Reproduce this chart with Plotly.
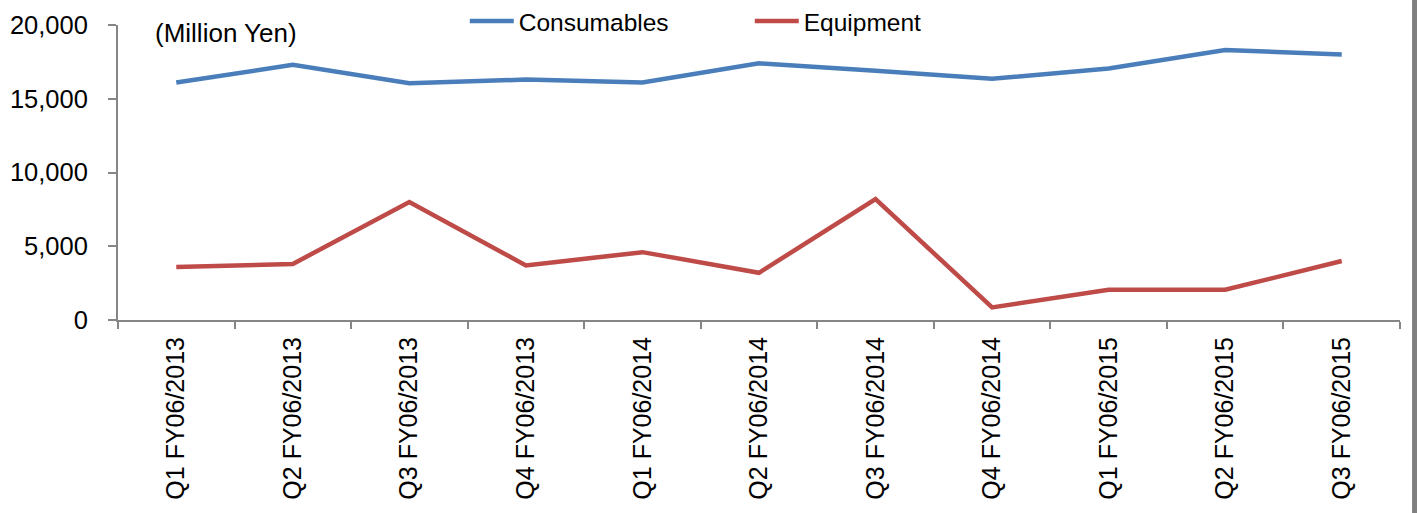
import plotly.graph_objects as go

# Quarterly sales by segment (million yen)
quarters = [
    "Q1 FY06/2013", "Q2 FY06/2013", "Q3 FY06/2013", "Q4 FY06/2013",
    "Q1 FY06/2014", "Q2 FY06/2014", "Q3 FY06/2014", "Q4 FY06/2014",
    "Q1 FY06/2015", "Q2 FY06/2015", "Q3 FY06/2015",
]
consumables = [16100, 17300, 16050, 16300, 16100, 17400, 16900, 16350, 17050, 18300, 18000]
equipment = [3600, 3800, 8000, 3700, 4600, 3200, 8200, 850, 2050, 2050, 4000]

y_ticks = [0, 5000, 10000, 15000, 20000]

FONT = "Liberation Sans, Arial, sans-serif"
AXIS_GRAY = "#868686"

fig = go.Figure()
fig.add_trace(go.Scatter(
    x=quarters, y=consumables, name="Consumables", mode="lines",
    line=dict(color="#4A7EBB", width=4.5),
))
fig.add_trace(go.Scatter(
    x=quarters, y=equipment, name="Equipment", mode="lines",
    line=dict(color="#BE4B48", width=4.5),
))

fig.update_layout(
    width=1417, height=513,
    margin=dict(l=118, r=17, t=25, b=193, autoexpand=False),
    paper_bgcolor="white", plot_bgcolor="white",
    font=dict(family=FONT, size=25, color="black"),
    showlegend=True,
    legend=dict(
        orientation="h", xref="container", yref="container",
        x=0.328, y=0.959, xanchor="left", yanchor="middle",
        font=dict(size=24.5), bgcolor="rgba(0,0,0,0)",
        entrywidth=226, entrywidthmode="pixels",
        itemwidth=44,
    ),
    xaxis=dict(
        type="category", tickangle=-90, range=[-0.5, len(quarters) - 0.5],
        showline=True, linecolor=AXIS_GRAY, linewidth=2,
        ticks="outside", tickson="boundaries", ticklen=7,
        tickcolor=AXIS_GRAY, tickwidth=2,
        showgrid=False, zeroline=False,
        tickfont=dict(size=25), ticklabelstandoff=5,
    ),
    yaxis=dict(
        range=[0, 20000], tickvals=y_ticks,
        tickformat=",d",
        showline=True, linecolor=AXIS_GRAY, linewidth=2,
        ticks="outside", ticklen=8, tickcolor=AXIS_GRAY, tickwidth=2,
        showgrid=False, zeroline=False,
        tickfont=dict(size=25.5), ticklabelstandoff=15,
    ),
    annotations=[dict(
        text="(Million Yen)", xref="paper", yref="paper",
        x=0.027, y=0.973, xanchor="left", yanchor="middle",
        showarrow=False, font=dict(size=26),
    )],
    shapes=[dict(
        type="rect", xref="paper", yref="paper",
        x0=1.0094, x1=1.02, y0=-0.7, y1=1.1,
        fillcolor="#808080", line=dict(width=0), layer="above",
    )],
)

fig.write_html("out.html")
